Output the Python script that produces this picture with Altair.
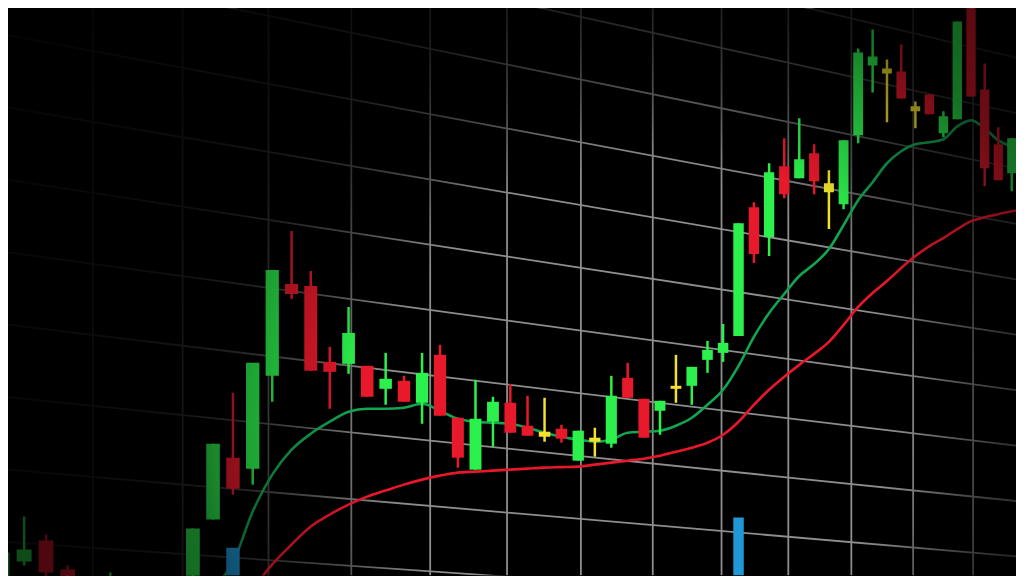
import altair as alt
import pandas as pd

# ---------------- data ----------------
# candle number (session index) and prices
candle_i = [0, 1, 2, 3, 5, 9, 10, 11, 12, 13, 14, 15, 16, 17, 18, 19, 20, 21, 22, 23,
            24, 25, 26, 27, 28, 29, 30, 31, 32, 33, 34, 35, 36, 37, 38, 39, 40, 41, 42, 43,
            44, 45, 46, 47, 48, 49, 50, 51, 52, 53, 54, 55, 56, 57, 58, 59]
candle_dir = ["up", "up", "down", "down", "up", "up", "up", "down", "up", "up",
              "down", "down", "down", "up", "down", "up", "down", "up", "down", "down",
              "up", "up", "down", "down", "flat", "down", "up", "flat", "up", "down",
              "down", "up", "flat", "up", "up", "up", "up", "down", "up", "down",
              "up", "down", "flat", "up", "up", "up", "flat", "down", "flat", "down",
              "up", "up", "down", "down", "down", "up"]
opens = [11.0, 13.8, 15.9, 13.0, 10.0, 9.0, 18.0, 24.2, 23.1, 32.4,
         41.6, 41.4, 33.8, 33.6, 33.4, 31.1, 31.9, 29.7, 34.5, 28.2,
         23.0, 27.8, 29.7, 27.4, 26.8, 27.1, 23.9, 26.2, 25.6, 32.2,
         30.1, 28.9, 31.4, 31.4, 34.0, 34.7, 36.4, 49.3, 46.3, 53.4,
         52.2, 54.7, 51.7, 49.6, 56.5, 63.5, 63.2, 62.9, 59.4, 60.6,
         56.7, 58.1, 69.3, 61.1, 55.6, 52.7]
closes = [14.7, 15.0, 12.7, 11.0, 12.1, 17.1, 25.6, 21.1, 33.7, 43.0,
          40.6, 32.9, 32.8, 36.7, 30.3, 32.1, 29.8, 32.7, 28.4, 24.2,
          28.1, 29.8, 26.7, 26.4, 26.3, 26.1, 26.9, 25.8, 30.4, 30.2,
          26.2, 29.9, 31.1, 33.3, 35.0, 35.7, 47.7, 44.6, 52.8, 50.6,
          54.1, 51.9, 50.8, 56.0, 64.8, 64.4, 62.7, 60.2, 58.9, 58.6,
          58.4, 67.9, 60.4, 53.2, 52.0, 56.2]
highs = [14.7, 18.3, 16.5, 13.4, 12.7, 17.1, 25.6, 30.7, 33.7, 43.0,
         46.9, 42.9, 35.3, 39.3, 33.4, 34.7, 32.4, 34.7, 35.5, 28.2,
         32.0, 30.3, 31.6, 30.4, 30.2, 27.5, 26.9, 27.2, 32.4, 33.7,
         30.1, 29.9, 34.5, 33.3, 35.9, 37.6, 47.7, 49.8, 53.7, 56.2,
         58.2, 55.6, 53.0, 56.0, 65.2, 67.1, 64.1, 65.6, 59.9, 60.6,
         58.9, 67.9, 71.5, 63.7, 57.3, 56.2]
lows = [10.5, 13.4, 12.0, 10.5, 9.5, 8.5, 18.0, 20.5, 21.5, 29.8,
        40.1, 32.9, 29.1, 32.6, 30.3, 29.5, 29.8, 27.6, 28.4, 23.2,
        23.0, 25.3, 26.7, 26.4, 25.8, 25.7, 23.9, 24.3, 25.2, 30.2,
        26.2, 26.5, 29.7, 29.5, 32.7, 33.8, 36.4, 43.7, 44.4, 50.2,
        52.2, 50.6, 47.1, 49.1, 55.7, 60.8, 57.8, 60.2, 57.2, 58.6,
        56.3, 58.1, 60.4, 51.4, 52.0, 50.9]

# moving averages
ma_i = list(range(10, 61))
ma_fast = [11.2, 13.7, 18.8, 22.5, 25.0, 26.6, 27.8, 28.8, 29.1, 29.1,
           29.2, 29.6, 28.9, 28.1, 27.8, 27.7, 27.6, 27.2, 26.7, 26.3,
           26.0, 25.8, 26.0, 26.7, 26.8, 26.9, 27.4, 28.2, 29.5, 31.0,
           33.4, 36.3, 38.7, 40.6, 42.4, 43.6, 45.1, 47.5, 50.0, 51.8,
           53.7, 54.9, 55.6, 55.8, 56.1, 57.4, 58.0, 57.2, 56.0, 55.4,
           55.2]
ma_slow = [None, None, 11.0, 13.5, 15.5, 17.3, 18.5, 19.5, 20.3, 20.9,
           21.5, 22.0, 22.4, 22.7, 22.8, 22.9, 23.0, 23.1, 23.2, 23.25,
           23.3, 23.5, 23.7, 23.9, 24.1, 24.4, 24.8, 25.2, 25.7, 26.5,
           27.8, 29.5, 31.0, 32.3, 33.5, 34.6, 35.8, 37.5, 39.3, 40.7,
           41.9, 43.2, 44.4, 45.4, 46.2, 47.1, 47.9, 48.3, 48.6, 48.9,
           49.1]

# volume bars
vol_i = [11, 40]
vol = [4.9, 10.2]

# perspective grid: price level at left and right edge of each horizontal line,
# and the session position of each vertical line
grid_left = [88.32, 81.06, 73.81, 66.55, 59.29, 52.04, 44.78, 37.52, 30.27, 23.01, 15.75]
grid_right = [64.29, 58.73, 53.18, 47.63, 42.07, 36.52, 30.97, 25.41, 19.86, 14.31, 8.75]
grid_v = [4.174, 8.493, 12.806, 17.147, 21.45, 25.81, 30.16, 34.55, 38.90, 43.27,
          47.53, 51.84, 56.15]

# ---------------- tables ----------------
candles = pd.DataFrame({"i": candle_i, "dir": candle_dir, "open": opens,
                        "close": closes, "high": highs, "low": lows})
ma = pd.DataFrame({"i": ma_i, "fast": ma_fast, "slow": ma_slow})
volume = pd.DataFrame({"i": vol_i, "vol": vol})
hgrid = pd.DataFrame({"left": grid_left, "right": grid_right})
vgrid = pd.DataFrame({"pos": grid_v})

W, H = 1010, 568
xs = alt.Scale(type="symlog", constant=90, domain=[0.2694, 59.315], nice=False, zero=False)
ys = alt.Scale(domain=[12.4, 69.2], nice=False, zero=False)
dir_scale = alt.Scale(domain=["up", "down", "flat"],
                      range=["#2cf04c", "#e8192b", "#f2e22c"])

GRID = "#8e8e8e"
h_lines = alt.Chart(hgrid).mark_rule(color=GRID, strokeWidth=1.8, clip=True).encode(
    x=alt.value(0), x2=alt.value(W),
    y=alt.Y("left:Q", scale=ys, axis=None), y2="right:Q")

v_lines = alt.Chart(vgrid).mark_rule(color=GRID, strokeWidth=1.8, clip=True).encode(
    x=alt.X("pos:Q", scale=xs, axis=None), y=alt.value(0), y2=alt.value(H))

slow_line = alt.Chart(ma).mark_line(color="#e8172a", strokeWidth=2.6,
                                    interpolate="monotone", clip=True).encode(
    x=alt.X("i:Q", scale=xs, axis=None), y=alt.Y("slow:Q", scale=ys, axis=None))

fast_line = alt.Chart(ma).mark_line(color="#12a552", strokeWidth=2.6,
                                    interpolate="monotone", clip=True).encode(
    x=alt.X("i:Q", scale=xs, axis=None), y=alt.Y("fast:Q", scale=ys, axis=None))

vol_bars = alt.Chart(volume).transform_calculate(
    a="datum.i - 0.34", b="datum.i + 0.34"
).mark_rect(color="#1e98d6", clip=True).encode(
    x=alt.X("a:Q", scale=xs, axis=None), x2="b:Q",
    y=alt.Y("vol:Q", scale=alt.Scale(domain=[0, 100], nice=False), axis=None),
    y2=alt.datum(0))

wicks = alt.Chart(candles).mark_rule(strokeWidth=2.5, clip=True).encode(
    x=alt.X("i:Q", scale=xs, axis=None),
    y=alt.Y("low:Q", scale=ys, axis=None), y2="high:Q",
    color=alt.Color("dir:N", scale=dir_scale, legend=None))

bodies = alt.Chart(candles).transform_calculate(
    a="datum.i - 0.34", b="datum.i + 0.34"
).mark_rect(clip=True).encode(
    x=alt.X("a:Q", scale=xs, axis=None), x2="b:Q",
    y=alt.Y("open:Q", scale=ys, axis=None), y2="close:Q",
    color=alt.Color("dir:N", scale=dir_scale, legend=None))


def radial(stops):
    return {
        "gradient": "radial",
        "x1": 0.6257, "y1": 0.627, "r1": 0,
        "x2": 0.6257, "y2": 0.627, "r2": 0.693,
        "stops": [{"offset": o, "color": f"rgba(0,0,0,{a})"} for o, a in stops],
    }


# extra fade of the grid toward the edges (the grid recedes faster than the candles)
grid_fade = alt.Chart(pd.DataFrame({"k": [0]})).mark_rect(
    fill=radial([(0.0, 0), (0.36, 0), (0.48, 0.38), (0.58, 0.6), (0.72, 0.76), (1.0, 0.86)])
).encode(x=alt.value(0), x2=alt.value(W), y=alt.value(0), y2=alt.value(H))

# overall vignette of the photographed screen
vignette = alt.Chart(pd.DataFrame({"k": [0]})).mark_rect(
    fill=radial([(0.0, 0), (0.40, 0), (0.47, 0.15), (0.571, 0.35), (0.643, 0.52),
                 (0.786, 0.64), (1.0, 0.72)])
).encode(x=alt.value(0), x2=alt.value(W), y=alt.value(0), y2=alt.value(H))

chart = alt.layer(
    h_lines, v_lines, grid_fade, slow_line, fast_line, vol_bars, wicks, bodies, vignette
).resolve_scale(y="independent").properties(
    width=W, height=H, autosize="none", padding=0, background="#000000"
).configure_view(stroke=None)

chart.save("out.html", embed_options={"renderer": "svg", "actions": False})
